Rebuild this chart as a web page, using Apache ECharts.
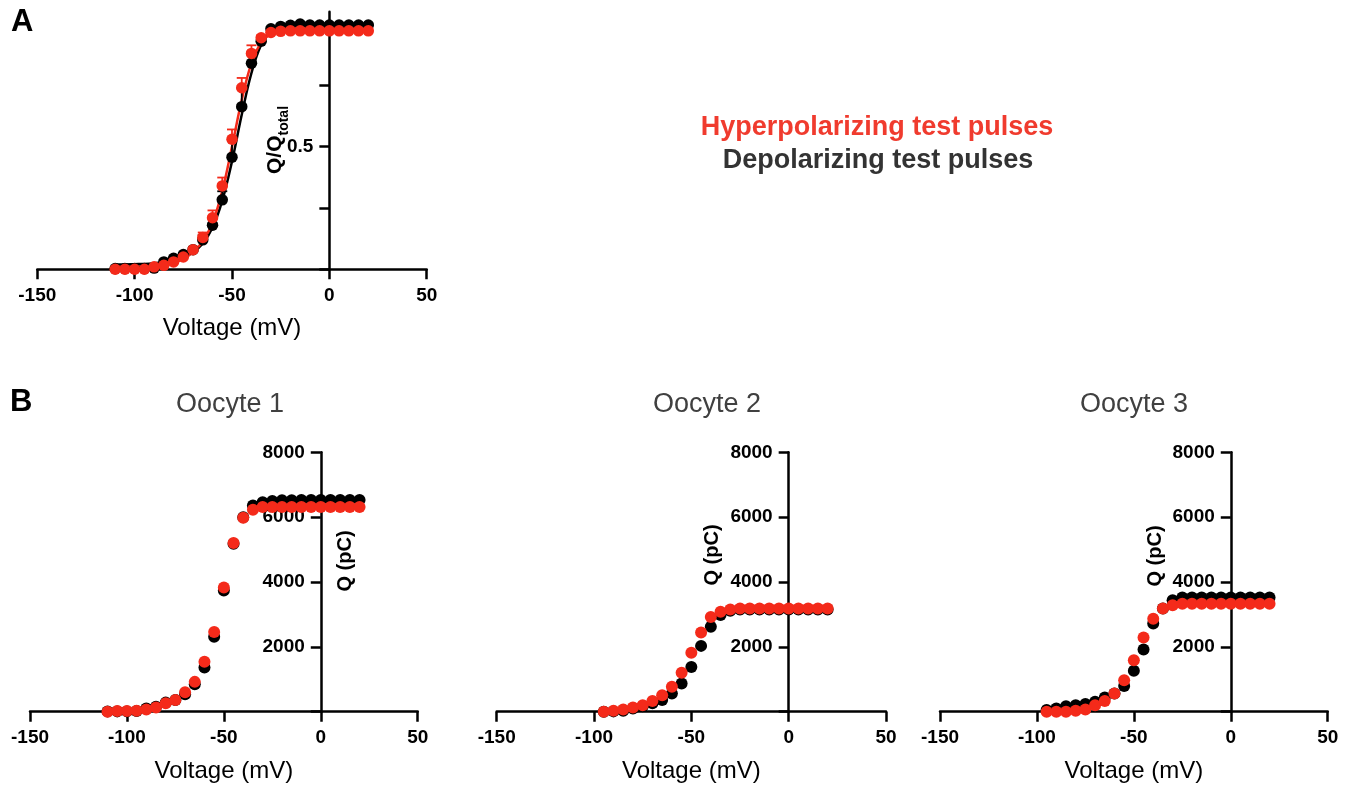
<!DOCTYPE html>
<html>
<head>
<meta charset="utf-8">
<script src="https://cdn.jsdelivr.net/npm/echarts@6/dist/echarts.min.js"></script>
<style>
html, body { margin: 0; padding: 0; background: #fff; }
#chartContainer { width: 1351px; height: 791px; }
</style>
</head>
<body>
<div id="chartContainer"></div>
<script>
// voltages (mV)
var volt110 = [-110, -105, -100, -95, -90, -85, -80, -75, -70, -65, -60, -55, -50, -45, -40, -35, -30, -25, -20, -15, -10, -5, 0, 5, 10, 15, 20];
var volt95 = [-95, -90, -85, -80, -75, -70, -65, -60, -55, -50, -45, -40, -35, -30, -25, -20, -15, -10, -5, 0, 5, 10, 15, 20];
var xTicks = [-150, -100, -50, 0, 50];
var normTicks = [0, 0.25, 0.5, 0.75, 1.0];

// A: normalised charge
var normHyper = [0, 0, 0, 0, 0.01, 0.016, 0.03, 0.05, 0.08, 0.13, 0.21, 0.34, 0.53, 0.74, 0.88, 0.944, 0.965, 0.97, 0.972, 0.972, 0.972, 0.972, 0.972, 0.972, 0.972, 0.972, 0.972];
var normDepol = [0.003, 0.003, 0.003, 0.003, 0.005, 0.03, 0.045, 0.06, 0.08, 0.12, 0.18, 0.283, 0.457, 0.663, 0.84, 0.93, 0.98, 0.99, 0.995, 1.0, 0.996, 0.996, 0.996, 0.996, 0.996, 0.996, 0.996];
var fitHyper = [0.002, 0.003, 0.004, 0.006, 0.009, 0.015, 0.025, 0.042, 0.07, 0.115, 0.19, 0.32, 0.5, 0.69, 0.84, 0.925, 0.958, 0.968, 0.971, 0.972, 0.972, 0.972, 0.972, 0.972, 0.972, 0.972, 0.972];
var fitDepol = [0.02, 0.02, 0.021, 0.022, 0.025, 0.03, 0.037, 0.05, 0.07, 0.105, 0.17, 0.28, 0.44, 0.63, 0.8, 0.915, 0.97, 0.99, 0.996, 0.998, 0.998, 0.998, 0.998, 0.998, 0.998, 0.998, 0.998];
var errVolts = [-70, -65, -60, -55, -50, -45, -40, -35, -20, -15];
var errHyperUp = [0.01, 0.02, 0.03, 0.034, 0.04, 0.04, 0.033, 0.01, 0, 0];
var errDepolDown = [0.01, 0.02, 0.03, 0.035, 0.065, 0.075, 0.04, 0.01, -0.025, -0.02];

// B: charge per oocyte (pC)
var o1Hyper = [0, 20, 20, 30, 70, 130, 260, 360, 600, 920, 1540, 2460, 3830, 5200, 5980, 6230, 6310, 6310, 6310, 6310, 6310, 6310, 6310, 6310, 6310, 6310, 6310];
var o1Depol = [10, 10, 10, 20, 100, 150, 280, 360, 540, 850, 1360, 2310, 3740, 5180, 6000, 6360, 6460, 6500, 6520, 6520, 6530, 6530, 6530, 6530, 6530, 6530, 6530];
var o2Hyper = [0, 30, 70, 130, 200, 330, 510, 770, 1200, 1820, 2440, 2920, 3080, 3150, 3180, 3180, 3180, 3180, 3180, 3180, 3180, 3180, 3180, 3180];
var o2Depol = [0, 10, 30, 100, 170, 260, 360, 560, 870, 1380, 2030, 2620, 2980, 3110, 3150, 3150, 3150, 3150, 3150, 3150, 3150, 3150, 3150, 3150];
var o3Hyper = [0, 0, 0, 30, 70, 200, 330, 560, 970, 1590, 2290, 2870, 3180, 3280, 3330, 3330, 3330, 3330, 3330, 3330, 3330, 3330, 3330, 3330];
var o3Depol = [50, 100, 170, 200, 240, 310, 440, 560, 790, 1260, 1920, 2720, 3180, 3440, 3520, 3520, 3520, 3520, 3520, 3520, 3520, 3520, 3520, 3520];

var FONT = '"Liberation Sans", Arial, Helvetica, sans-serif';
var RED = '#f42a1a';
var BLACK = '#000000';
var option = null;

// grid boxes: left, top, width, height
var grids = [
	[37.3, 11.7, 389.4, 257.6],
	[30, 452.3, 387.7, 259.4],
	[496.7, 452.3, 389.3, 259.4],
	[940, 452.3, 387.7, 259.4]
];

window.onload = function() {
	initOption();
	var chartContainer = echarts.init(document.getElementById('chartContainer'));
	chartContainer.setOption(option);
};

function pairs(xs, ys) {
	var out = [];
	for (var i = 0; i < xs.length; i++) {
		out.push([xs[i], ys[i]]);
	}
	return out;
}

function errData(ys, errs) {
	var out = [];
	for (var i = 0; i < errVolts.length; i++) {
		var idx = volt110.indexOf(errVolts[i]);
		out.push([errVolts[i], ys[idx], errs[i]]);
	}
	return out;
}

function xAxisCfg(gridIndex, nameGap) {
	return {
		type: 'value', gridIndex: gridIndex,
		min: xTicks[0], max: xTicks[xTicks.length - 1], interval: 50,
		name: 'Voltage (mV)', nameLocation: 'middle', nameGap: nameGap,
		nameTextStyle: { fontSize: 24, color: '#000', fontFamily: FONT },
		axisLine: { onZero: false, lineStyle: { color: '#000', width: 2.5 } },
		axisTick: { length: 10, lineStyle: { color: '#000', width: 2.5 } },
		axisLabel: { margin: 17, fontSize: 19, fontWeight: 'bold', color: '#000', fontFamily: FONT },
		splitLine: { show: false }
	};
}

function yAxisCfg(gridIndex, max, interval, fmt) {
	// y axis sits on V = 0, i.e. 150/200 of the way across the grid
	var shift = grids[gridIndex][2] * (0 - xTicks[0]) / (xTicks[xTicks.length - 1] - xTicks[0]);
	return {
		type: 'value', gridIndex: gridIndex, position: 'left', offset: -shift,
		min: 0, max: max, interval: interval,
		axisLine: { onZero: false, lineStyle: { color: '#000', width: 2.5 } },
		axisTick: { length: 10, lineStyle: { color: '#000', width: 2.5 } },
		axisLabel: { margin: 16, fontSize: 19, fontWeight: 'bold', color: '#000', fontFamily: FONT, formatter: fmt },
		splitLine: { show: false }
	};
}

function dots(idx, data, color, size) {
	return {
		type: 'scatter', xAxisIndex: idx, yAxisIndex: idx,
		data: data, symbolSize: size, itemStyle: { color: color, opacity: 1 },
		silent: true, z: color == RED ? 4 : 3
	};
}

function errBars(data, color) {
	return {
		type: 'custom', xAxisIndex: 0, yAxisIndex: 0, data: data, z: 2, silent: true,
		encode: { x: 0, y: 1 },
		renderItem: function(params, api) {
			var x = api.value(0), y = api.value(1), e = api.value(2);
			if (!e) return null;
			var p0 = api.coord([x, y]);
			var p1 = api.coord([x, y + e]);
			var style = { stroke: color, lineWidth: 1.8 };
			return {
				type: 'group', children: [
					{ type: 'line', shape: { x1: p0[0], y1: p0[1], x2: p1[0], y2: p1[1] }, style: style },
					{ type: 'line', shape: { x1: p1[0] - 5, y1: p1[1], x2: p1[0] + 5, y2: p1[1] }, style: style }
				]
			};
		}
	};
}

function label(text, x, y, size, weight, color, rot) {
	return {
		type: 'text', x: x, y: y, rotation: rot || 0,
		style: {
			text: text, fill: color, fontSize: size, fontWeight: weight, fontFamily: FONT,
			textAlign: 'center', textVerticalAlign: 'middle', align: 'center', verticalAlign: 'middle'
		}
	};
}

function initOption() {
	var qfmt = function(v) { return v === 0 ? '' : String(v); };
	var gridOpts = [];
	for (var i = 0; i < grids.length; i++) {
		gridOpts.push({ left: grids[i][0], top: grids[i][1], width: grids[i][2], height: grids[i][3] });
	}
	var normAxis = yAxisCfg(0, 1.05, 0.25, function(v) { return v === 0.5 ? '0.5' : ''; });
	// no tick at the 1.05 axis end
	normAxis.axisTick.customValues = normTicks;
	normAxis.axisLabel.customValues = normTicks;

	option = {
		backgroundColor: '#fff',
		animation: false,
		grid: gridOpts,
		xAxis: [xAxisCfg(0, 47), xAxisCfg(1, 48), xAxisCfg(2, 48), xAxisCfg(3, 48)],
		yAxis: [
			normAxis,
			yAxisCfg(1, 8000, 2000, qfmt),
			yAxisCfg(2, 8000, 2000, qfmt),
			yAxisCfg(3, 8000, 2000, qfmt)
		],
		series: [
			{ type: 'line', xAxisIndex: 0, yAxisIndex: 0, data: pairs(volt110, fitDepol), smooth: 0.4, symbol: 'none', lineStyle: { color: BLACK, width: 2.5 }, z: 1, silent: true },
			{ type: 'line', xAxisIndex: 0, yAxisIndex: 0, data: pairs(volt110, fitHyper), smooth: 0.4, symbol: 'none', lineStyle: { color: RED, width: 2.5 }, z: 1, silent: true },
			errBars(errData(normDepol, errDepolDown), BLACK),
			errBars(errData(normHyper, errHyperUp), RED),
			dots(0, pairs(volt110, normDepol), BLACK, 11.5),
			dots(0, pairs(volt110, normHyper), RED, 11.5),
			dots(1, pairs(volt110, o1Depol), BLACK, 12),
			dots(1, pairs(volt110, o1Hyper), RED, 12),
			dots(2, pairs(volt95, o2Depol), BLACK, 12),
			dots(2, pairs(volt95, o2Hyper), RED, 12),
			dots(3, pairs(volt95, o3Depol), BLACK, 12),
			dots(3, pairs(volt95, o3Hyper), RED, 12)
		],
		graphic: [
			{ type: 'text', x: 11, y: 22, style: { text: 'A', fontSize: 31, fontWeight: 'bold', fontFamily: FONT, fill: '#000', textVerticalAlign: 'middle', verticalAlign: 'middle' } },
			{ type: 'text', x: 10, y: 402, style: { text: 'B', fontSize: 31, fontWeight: 'bold', fontFamily: FONT, fill: '#000', textVerticalAlign: 'middle', verticalAlign: 'middle' } },
			label('Hyperpolarizing test pulses', 877, 128, 27, 'bold', '#f03b2e'),
			label('Depolarizing test pulses', 878, 161, 27, 'bold', '#333333'),
			label('Oocyte 1', 230, 405, 27, 'normal', '#404040'),
			label('Oocyte 2', 707, 405, 27, 'normal', '#404040'),
			label('Oocyte 3', 1134, 405, 27, 'normal', '#404040'),
			label('Q (pC)', 345, 561, 20, 'bold', '#000', Math.PI / 2),
			label('Q (pC)', 712, 555, 20, 'bold', '#000', Math.PI / 2),
			label('Q (pC)', 1155, 556, 20, 'bold', '#000', Math.PI / 2),
			{
				type: 'text', x: 278, y: 140, rotation: Math.PI / 2,
				style: {
					text: '{a|Q/Q}{b|total}', fill: '#000', fontFamily: FONT,
					textAlign: 'center', textVerticalAlign: 'middle', align: 'center', verticalAlign: 'middle',
					rich: {
						a: { fontSize: 21, fontWeight: 'bold', fontFamily: FONT, fill: '#000', verticalAlign: 'bottom', padding: [0, 0, 6, 0] },
						b: { fontSize: 14, fontWeight: 'bold', fontFamily: FONT, fill: '#000', verticalAlign: 'bottom' }
					}
				}
			}
		]
	};
}
</script>
</body>
</html>
